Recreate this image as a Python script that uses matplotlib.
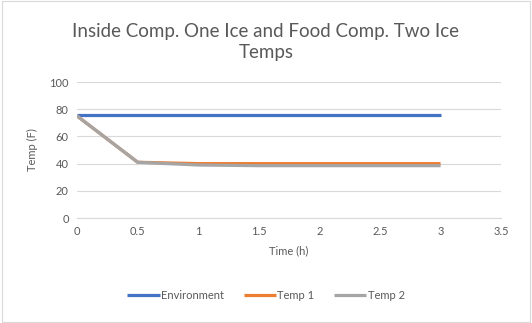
import matplotlib
matplotlib.use("Agg")
import matplotlib.pyplot as plt
from matplotlib.patches import Rectangle

time_h = [0, 0.5, 1, 1.5, 2, 2.5, 3]
environment = [76, 76, 76, 76, 76, 76, 76]
temp1 = [75, 41, 40, 40, 40, 40, 40]
temp2 = [75, 41, 39, 38.5, 38.5, 38.5, 38.5]
series_names = ["Environment", "Temp 1", "Temp 2"]
colors = ["#4472C4", "#ED7D31", "#A5A5A5"]
xticks = [0, 0.5, 1, 1.5, 2, 2.5, 3, 3.5]
xticklabels = ["0", "0.5", "1", "1.5", "2", "2.5", "3", "3.5"]
yticks = [0, 20, 40, 60, 80, 100]

plt.rcParams['font.family'] = ['Lato', 'DejaVu Sans']
txt = "#595959"

fig = plt.figure(figsize=(5.32, 3.23), dpi=100)
fig.patches.append(Rectangle((0.004, 0.004), 0.992, 0.992, transform=fig.transFigure,
                             fill=False, edgecolor="#D9D9D9", linewidth=0.8))
ax = fig.add_axes([0.145, 0.325, 0.797, 0.421])

for ys, name, c in zip([environment, temp1, temp2], series_names, colors):
    ax.plot(time_h, ys, color=c, linewidth=2.3, label=name, solid_capstyle='butt')

ax.set_xlim(0, 3.5)
ax.set_ylim(0, 100)
ax.set_xticks(xticks)
ax.set_xticklabels(xticklabels)
ax.set_yticks(yticks)
ax.grid(axis='y', color="#D9D9D9", linewidth=0.8)
ax.set_axisbelow(True)
for s in ['top', 'right', 'left']:
    ax.spines[s].set_visible(False)
ax.spines['bottom'].set_color("#D9D9D9")
ax.tick_params(axis='both', length=0, colors=txt, labelsize=8, pad=6)
ax.set_xlabel("Time (h)", color=txt, fontsize=8, labelpad=6)
ax.set_ylabel("Temp (F)", color=txt, fontsize=8, labelpad=8)

fig.text(0.5, 0.87, "Inside Comp. One Ice and Food Comp. Two Ice\nTemps", ha='center', va='center',
         fontsize=13.5, color=txt, linespacing=1.3)

leg = fig.legend(loc='center', bbox_to_anchor=(0.5, 0.085), ncol=3, frameon=False,
                 fontsize=8, handlelength=2.9, columnspacing=1.8, handletextpad=0.1)
for t in leg.get_texts():
    t.set_color(txt)

fig.savefig("out.png", dpi=100)
